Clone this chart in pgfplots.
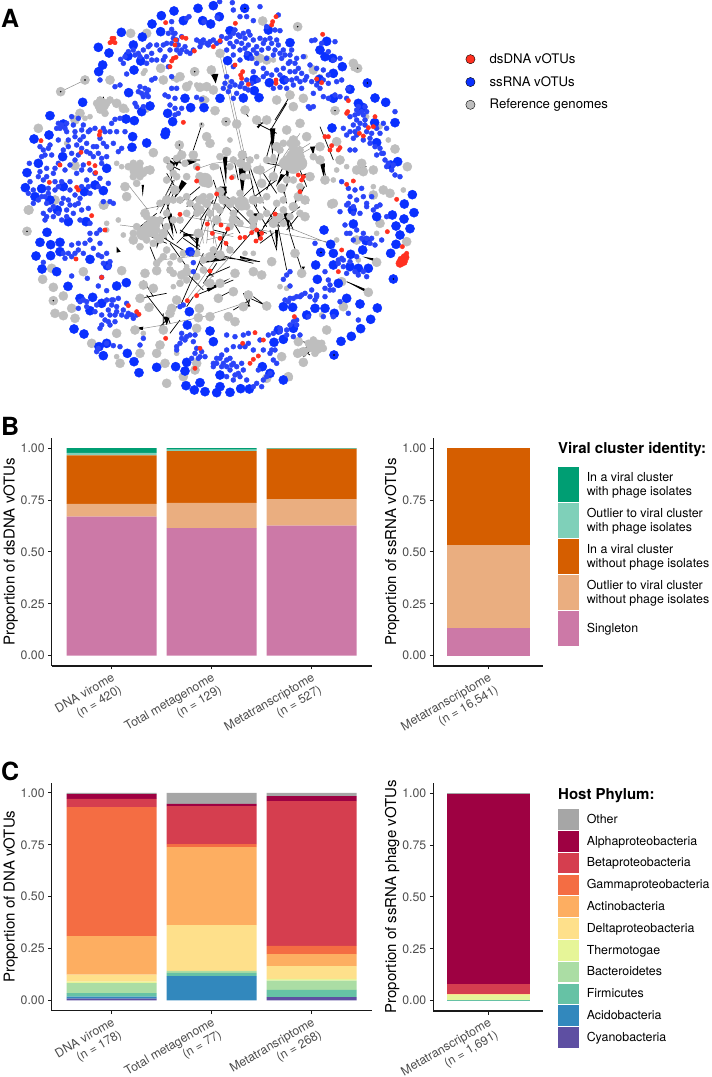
\documentclass[border=0pt]{standalone}
\usepackage{fontspec}
\setmainfont{TeX Gyre Heros}
\usepackage{pgfplots}
\usepackage{pgfplotstable}
\pgfplotsset{compat=1.18}

\definecolor{cRed}{HTML}{FF3020}
\definecolor{cBlue}{HTML}{0A30FF}
\definecolor{cBlueS}{HTML}{2A44F8}
\definecolor{cGray}{HTML}{BEBEBE}
\definecolor{vInPh}{HTML}{009E73}
\definecolor{vOutPh}{HTML}{7FD0B9}
\definecolor{vIn}{HTML}{D55E00}
\definecolor{vOut}{HTML}{EAAE80}
\definecolor{vSing}{HTML}{CC79A7}
\definecolor{hOther}{HTML}{A6A6A6}
\definecolor{hAlpha}{HTML}{9E0142}
\definecolor{hBeta}{HTML}{D53E4F}
\definecolor{hGamma}{HTML}{F46D43}
\definecolor{hActino}{HTML}{FDAE61}
\definecolor{hDelta}{HTML}{FEE08B}
\definecolor{hThermo}{HTML}{E6F598}
\definecolor{hBact}{HTML}{ABDDA4}
\definecolor{hFirm}{HTML}{66C2A5}
\definecolor{hAcido}{HTML}{3288BD}
\definecolor{hCyano}{HTML}{5E4FA2}
\definecolor{tickgray}{HTML}{4D4D4D}

\newcommand{\fs}[1]{\fontsize{#1}{14}\selectfont}

\pgfplotsset{
  barpanel/.style={
    scale only axis, height=228.2pt,
    ybar stacked, bar shift=0pt, bar width=0.9,
    ymin=-0.05, ymax=1.05, ytick={0,0.25,0.5,0.75,1},
    axis lines*=left,
    axis line style={-, line width=1.1pt, black!90},
    tick style={black!90, line width=0.9pt},
    tick align=outside, major tick length=3.5pt,
    xtick pos=bottom, ytick pos=left,
    tick label style={font=\fs{12.3}, text=tickgray},
    yticklabel style={/pgf/number format/assume math mode=true,
      /pgf/number format/fixed, /pgf/number format/fixed zerofill, /pgf/number format/precision=2},
    xticklabel style={rotate=30, anchor=north east, align=right, inner sep=2pt, font=\fs{12.3}},
    ylabel style={font=\fs{15}},
    ylabel shift=-4pt,
    legend style={draw=none, fill=none, anchor=north west, inner sep=0pt, outer sep=0pt,
      font=\fs{12.4}, row sep=1pt, column sep=8pt,
      cells={anchor=west}, nodes={inner sep=0pt, align=left}},
  },
  swatchB/.style={legend image code/.code={\fill[##1] (0pt,-17.5pt) rectangle (20.5pt,17.5pt);}},
  swatchC/.style={legend image code/.code={\fill[##1] (0pt,-10.3pt) rectangle (20.5pt,10.3pt);}},
  net/.style={only marks, mark=*, forget plot},
}

% proportions, bottom of the stack first
\pgfplotstableread{
x sing outno inno outph inph
1 0.670 0.0615 0.2335 0.0125 0.0225
2 0.614 0.122 0.2495 0.00725 0.00725
3 0.627 0.127 0.2428 0.001 0.0022
}\dsdna
\pgfplotstableread{
x sing outno inno outph inph
1 0.135 0.3995 0.4655 0 0
}\ssrna
\pgfplotstableread{
x cyano acido firm bact thermo delta actino gamma beta alpha other
1 0.008 0.010 0.017 0.0485 0.0065 0.034 0.186 0.621 0.040 0.023 0.006
2 0 0.117 0.015 0.0095 0 0.2215 0.375 0.015 0.183 0.011 0.053
3 0.016 0 0.034 0.045 0.008 0.062 0.058 0.039 0.698 0.024 0.016
}\dnahost
\pgfplotstableread{
x cyano acido firm bact thermo delta actino gamma beta alpha other
1 0 0 0.002 0 0.024 0.006 0 0 0.050 0.916 0.002
}\rnahost

\begin{document}
\begin{tikzpicture}[x=1pt,y=1pt]
\path[use as bounding box] (0,0) rectangle (712,1077);

% ---------- panel A: network, coordinates are 3 x pixel position
\begin{axis}[
  at={(0pt,667pt)}, anchor=south west, scale only axis, width=712pt, height=410pt,
  xmin=0, xmax=2136, ymin=0, ymax=1230, y dir=reverse, hide axis, clip=false,
  unbounded coords=jump,
  legend image code/.code={\fill[#1] (4.6pt,0pt) circle (4.6pt);},
  legend style={at={(axis description cs:0.6537,0.870)}, anchor=north west, draw=none, fill=none,
    inner sep=0pt, font=\fs{13.2}, row sep=11.5pt, column sep=14.4pt, cells={anchor=west}, nodes={inner sep=0pt}},
]
\addlegendimage{fill=cRed}\addlegendentry{dsDNA vOTUs}
\addlegendimage{fill=cBlue}\addlegendentry{ssRNA vOTUs}
\addlegendimage{fill=cGray}\addlegendentry{Reference genomes}

% reference genomes, hubs
\addplot[net, color=cGray, mark size=7pt] coordinates {
(455,690)(880,470)(410,510)(305,315)(950,1040)(725,610)(615,540)(460,670)(430,700)(880,500)(860,490)(900,490)
};
% reference genomes, large
\addplot[net, color=cGray, mark size=4.6pt] coordinates {
(788,63)(893,80)(660,160)(634,210)(584,215)(482,205)(392,100)(255,240)(182,275)(1073,205)(1005,332)(678,365)
(115,385)(225,497)(1010,425)(1185,447)(1222,500)(1085,490)(1120,510)(1070,510)(1090,515)(1150,570)(1170,580)(1120,585)
(620,410)(630,430)(538,435)(460,458)(450,510)(375,560)(380,590)(330,240)(350,310)(370,325)(440,100)(240,340)(225,360)
(165,600)(310,615)(85,630)(1000,610)(490,240)(540,230)(560,260)(600,262)(620,260)(640,270)(610,300)(645,332)(710,372)
(735,330)(770,360)(800,360)(880,320)(830,300)(910,295)(940,210)(1060,190)(800,180)(780,175)(870,285)
(727,465)(680,455)(722,490)(860,480)(900,470)(850,490)(820,530)(785,550)(600,530)(625,550)(580,465)(545,465)
(525,570)(500,600)(600,600)(660,575)(670,600)(760,600)(845,565)(895,590)(915,600)(880,620)(930,530)(975,540)(1020,480)
(960,480)(960,440)(780,510)(740,500)(900,370)(860,390)(880,420)(830,440)(920,410)(880,445)
(87,630)(81,694)(312,615)(440,680)(400,720)(435,640)(490,700)(595,700)(600,630)(620,610)(690,610)(730,615)(760,660)
(820,670)(830,655)(700,660)(650,660)(915,650)(885,760)(905,820)(815,785)(760,815)(705,820)(785,825)(630,850)(660,850)
(700,875)(655,895)(745,885)(800,918)(730,920)(598,925)(595,953)(630,950)(685,950)(705,965)(480,1035)(490,990)(405,990)
(350,1000)(420,1060)(360,1090)(500,1150)(590,985)(275,1030)(190,947)(225,955)(215,925)(165,940)(160,902)(190,888)
(160,862)(128,838)(155,805)(250,815)(365,812)(435,820)(470,812)(545,825)(560,815)(630,770)(660,765)(530,900)(515,925)
(510,940)(460,865)(430,855)(420,895)(447,922)(980,990)(1030,920)(895,1025)(950,1040)(910,1055)(893,1060)(910,1087)
(845,1070)(865,1130)(800,1135)(1130,787)(1105,877)(1025,845)(1070,720)(1140,670)(1220,725)(995,612)(590,1090)(585,1110)
(495,1090)(470,1060)(550,1130)
};
% reference genomes, middle size, mostly the central web
\addplot[net, color=cGray, mark size=3.6pt] coordinates {
(500,480)(510,500)(530,475)(555,490)(520,520)(500,540)(530,530)(560,530)(590,500)(640,500)(660,470)(700,480)(690,500)(730,530)
(750,480)(770,510)(800,480)(820,480)(840,450)(850,430)(870,430)(890,430)(900,450)(910,490)(940,470)(860,540)(880,540)(900,560)
(850,600)(830,610)(800,590)(780,600)(700,600)(720,580)(740,620)(650,620)(630,590)(610,590)(560,590)(540,600)(520,600)(480,610)
(590,620)(570,610)(500,640)(520,660)(500,680)(540,660)(560,640)(590,640)(630,640)(660,630)(700,640)(750,640)(780,650)(800,640)
(850,630)(880,620)(900,640)(870,650)(850,670)(840,650)(760,680)(720,670)(690,680)(480,720)(470,690)(500,750)(490,770)(520,770)
(550,760)(590,760)(610,780)(640,750)(690,750)(540,850)(560,840)(520,820)(510,810)(590,830)(610,810)(470,790)(400,700)(410,680)
(440,720)(460,730)(420,740)(470,710)(440,650)(480,660)(300,300)(290,310)(320,310)(300,330)(315,340)(330,300)(385,500)(400,490)
(420,490)(440,510)(420,530)(400,530)(410,550)(430,520)(940,1020)(965,1030)(970,1045)(945,1060)(930,1045)(925,1030)
};
% reference genomes, small
\addplot[net, color=cGray, mark size=2.6pt] coordinates {
(605,375)(430,220)(435,212)(520,235)(530,240)(570,250)(590,255)(620,300)(440,330)(380,330)(270,350)(255,355)(200,430)
(350,490)(365,500)(760,175)(820,180)(915,170)(960,230)(1060,205)(690,420)(650,500)(700,530)(745,530)(770,470)(820,470)
(1010,510)(1000,540)(1040,500)(1120,560)(1210,570)(1140,380)(1100,350)(1165,420)(320,670)(320,690)(355,660)(370,705)
(840,860)(860,865)(760,760)(735,760)(685,950)(435,815)(430,1000)(350,1070)(530,1060)(870,1135)(1130,700)(1000,950)
(965,945)(1010,720)(1075,780)(620,850)(560,800)(540,780)(580,760)(520,860)(480,780)(510,790)
};
% edges, black
\addplot[forget plot, black, line width=0.7pt] coordinates {
(605,375)(580,450)(nan,nan)(875,280)(825,360)(nan,nan)(860,310)(812,390)(nan,nan)(540,440)(540,490)(nan,nan)
(600,560)(540,610)(nan,nan)(830,540)(750,600)(nan,nan)(965,480)(980,540)(nan,nan)(960,380)(1000,480)(nan,nan)
(820,400)(800,470)(nan,nan)(770,370)(830,400)(nan,nan)(730,330)(745,350)(nan,nan)(745,500)(770,620)(nan,nan)
(500,610)(520,670)(nan,nan)(520,670)(530,700)(nan,nan)(550,715)(600,750)(nan,nan)(610,760)(540,920)(nan,nan)
(590,885)(700,840)(nan,nan)(780,785)(640,770)(nan,nan)(830,660)(860,810)(nan,nan)(810,690)(830,750)(nan,nan)
(870,700)(905,810)(nan,nan)(440,885)(490,950)(nan,nan)(430,840)(460,890)(nan,nan)(740,890)(800,918)(nan,nan)
(730,880)(750,920)(nan,nan)(420,895)(500,880)(nan,nan)(1040,845)(1100,870)(nan,nan)(910,1025)(950,1040)(nan,nan)
(910,1070)(940,1045)(nan,nan)(500,940)(510,970)(nan,nan)(490,940)(490,990)(nan,nan)(520,540)(480,620)(nan,nan)
(620,640)(600,700)(nan,nan)(540,690)(590,720)(nan,nan)(700,620)(780,700)(nan,nan)(770,680)(700,760)(nan,nan)
(720,620)(640,770)(nan,nan)(670,700)(660,770)(nan,nan)(500,490)(540,510)(nan,nan)(510,480)(530,540)(nan,nan)
(560,480)(600,480)(nan,nan)(520,560)(480,640)(nan,nan)(520,580)(500,630)(nan,nan)(560,590)(590,640)(nan,nan)
(600,620)(540,700)(nan,nan)(640,600)(600,660)(nan,nan)(660,600)(720,660)(nan,nan)(680,610)(640,680)(nan,nan)
(760,610)(800,680)(nan,nan)(790,620)(840,680)(nan,nan)(830,620)(780,700)(nan,nan)(850,620)(880,690)(nan,nan)
(900,620)(820,680)(nan,nan)(860,500)(900,440)(nan,nan)(880,440)(840,520)(nan,nan)(910,470)(850,530)(nan,nan)
(840,450)(815,540)(nan,nan)(790,520)(830,580)(nan,nan)(760,560)(720,600)(nan,nan)(660,500)(680,580)(nan,nan)
(640,540)(660,600)(nan,nan)(470,640)(420,680)(nan,nan)(480,650)(500,720)(nan,nan)(430,700)(500,730)(nan,nan)
(450,740)(470,790)(nan,nan)(470,700)(580,770)(nan,nan)(510,730)(560,800)(nan,nan)(560,820)(610,870)(nan,nan)
(640,760)(720,780)(nan,nan)(600,790)(640,830)(nan,nan)(700,930)(750,900)(nan,nan)(760,890)(800,920)(nan,nan)
(540,960)(510,1000)(nan,nan)(515,475)(545,490)(nan,nan)(500,520)(525,560)(nan,nan)(590,590)(560,620)(nan,nan)
(700,470)(715,540)(nan,nan)(740,470)(760,530)(nan,nan)(760,530)(790,610)(nan,nan)(800,490)(860,500)(nan,nan)
(840,500)(880,490)(nan,nan)(820,520)(800,570)(nan,nan)(870,530)(850,580)(nan,nan)(900,510)(920,560)(nan,nan)
(900,590)(925,610)(nan,nan)(850,560)(860,610)(nan,nan)(660,560)(640,620)(nan,nan)(680,590)(720,620)(nan,nan)
(600,600)(640,610)(nan,nan)(470,620)(520,600)(nan,nan)(450,680)(500,650)(nan,nan)(500,690)(520,720)(nan,nan)
(530,730)(560,700)(nan,nan)(560,700)(600,740)(nan,nan)(640,690)(680,700)(nan,nan)(690,650)(720,700)(nan,nan)
(750,680)(800,700)(nan,nan)(790,680)(830,640)(nan,nan)(820,700)(780,730)(nan,nan)(900,640)(860,690)(nan,nan)
(680,770)(760,790)(nan,nan)(620,830)(690,800)(nan,nan)(650,790)(610,850)(nan,nan)(700,870)(660,890)(nan,nan)
(560,920)(580,890)(nan,nan)(500,950)(530,920)(nan,nan)(480,980)(500,960)(nan,nan)(750,890)(745,920)(nan,nan)
(1070,505)(1100,500)(nan,nan)(1095,510)(1075,520)(nan,nan)(900,1045)(930,1065)(nan,nan)(920,1040)(900,1070)(nan,nan)
(300,300)(320,320)(nan,nan)(310,290)(315,330)(nan,nan)(765,365)(790,370)(nan,nan)(405,500)(415,530)
};
% edges, gray
\addplot[forget plot, black!45, line width=0.5pt] coordinates {
(255,240)(182,275)(nan,nan)(660,165)(728,470)(nan,nan)(668,165)(735,470)(nan,nan)(430,628)(470,620)(nan,nan)
(385,555)(440,625)(nan,nan)(595,505)(640,490)(720,480)(nan,nan)(470,630)(525,540)(nan,nan)
(900,400)(850,470)(nan,nan)(930,430)(850,480)(nan,nan)(960,430)(850,490)(nan,nan)(870,470)(790,520)(nan,nan)
(780,490)(780,550)(nan,nan)(360,675)(440,685)(nan,nan)(600,620)(610,730)(nan,nan)(630,620)(620,730)(nan,nan)
(640,620)(640,730)(nan,nan)(660,760)(560,900)(nan,nan)(700,760)(580,890)(nan,nan)(480,780)(660,760)(nan,nan)
(430,985)(490,975)(nan,nan)(490,975)(610,950)(730,910)(nan,nan)(560,650)(980,725)(nan,nan)(860,680)(985,730)(nan,nan)
(620,600)(650,740)(nan,nan)(640,620)(590,760)(nan,nan)(610,690)(700,710)(nan,nan)(620,720)(700,700)
};
% wedges
\addplot[forget plot, fill=black, draw=none] coordinates {
(632,222)(655,222)(647,250)(nan,nan)(718,455)(738,455)(727,510)(nan,nan)(716,505)(738,505)(727,590)(nan,nan)
(668,470)(682,470)(678,550)(nan,nan)(810,385)(826,385)(817,470)(nan,nan)(828,560)(855,525)(842,522)(nan,nan)
(770,380)(790,365)(775,385)(nan,nan)(905,525)(920,520)(900,545)(nan,nan)(930,440)(945,440)(940,465)(nan,nan)
(960,490)(975,490)(972,535)(nan,nan)(520,480)(540,480)(530,500)(nan,nan)(510,480)(525,490)(520,510)(nan,nan)
(560,480)(590,485)(565,495)(nan,nan)(425,555)(432,555)(428,590)(nan,nan)(855,480)(870,480)(862,560)(nan,nan)
(470,720)(480,720)(470,745)(nan,nan)(350,740)(362,755)(350,758)(nan,nan)(825,690)(835,690)(830,755)(nan,nan)
(1088,770)(1125,785)(1120,775)(nan,nan)(1040,845)(1095,875)(1095,868)(nan,nan)(720,775)(780,785)(720,768)(nan,nan)
(690,835)(625,875)(620,865)(nan,nan)(430,980)(400,985)(428,990)(nan,nan)(490,950)(510,950)(500,975)(nan,nan)
(915,1070)(925,1050)(905,1060)(nan,nan)(550,700)(590,705)(550,710)(nan,nan)(670,720)(690,750)(680,730)(nan,nan)
(905,800)(915,800)(910,810)(nan,nan)(735,910)(745,915)(738,930)(nan,nan)(790,910)(805,920)(795,925)(nan,nan)
(770,690)(785,700)(775,720)(nan,nan)(820,640)(835,640)(828,665)(nan,nan)(505,490)(520,490)(515,540)(nan,nan)
(545,540)(560,550)(520,600)(nan,nan)(660,560)(680,560)(672,620)(nan,nan)(900,560)(915,560)(880,620)(nan,nan)
(850,640)(865,640)(870,700)(nan,nan)(500,640)(515,640)(520,710)(nan,nan)(585,690)(600,690)(590,760)(nan,nan)
(760,640)(775,640)(765,700)(nan,nan)(660,770)(680,780)(600,790)
};
% ssRNA, large
\addplot[net, color=cBlue, mark size=4.6pt] coordinates {
(594,25)(640,17)(522,33)(484,47)(456,72)(482,95)(550,62)(608,62)(632,72)(658,50)(690,92)(734,25)(805,90)(870,128)(852,240)
(763,238)(808,248)(730,294)(777,293)(660,295)(683,182)(745,168)(980,124)(960,150)(1000,220)(1027,200)(1102,249)(1125,294)
(1157,307)(1185,368)(996,384)(1088,322)(1124,368)(1130,428)(1193,485)(1172,495)(1237,584)(1213,612)(295,142)(327,159)
(400,135)(364,97)(427,111)(422,183)(384,168)(402,210)(308,195)(296,215)(386,278)(248,307)(150,347)(102,417)(147,405)(190,372)
(396,442)(440,429)(398,410)(403,362)(378,357)(450,318)(425,335)(612,323)(572,323)(555,295)(518,365)(503,340)(188,470)(320,505)
(81,518)(115,490)(76,563)(125,566)(105,590)(190,560)(253,575)(310,572)(285,555)(150,600)(495,404)(497,396)(763,272)(958,238)
(1000,295)(1075,310)(1050,268)(975,170)(998,175)
(120,727)(152,734)(180,727)(180,755)(152,767)(141,697)(172,630)(205,665)(258,665)(270,778)(322,797)(108,768)(126,807)(170,815)
(204,859)(379,848)(350,858)(240,895)(278,892)(305,910)(270,932)(222,987)(252,1002)(310,1067)(297,1040)(320,1030)(382,1060)
(402,1085)(417,1118)(470,1102)(527,1100)(555,1113)(560,1087)(558,1157)(583,1170)(615,1175)(650,1178)(690,1177)(722,1166)
(748,1167)(850,1140)(787,1100)(810,1120)(660,1125)(660,1160)(600,1148)(568,935)(562,975)(630,993)(640,1025)(822,1027)
(850,1018)(835,990)(880,985)(878,922)(972,690)(992,733)(1000,760)(1052,763)(1088,750)(962,757)(947,795)(1000,795)(952,838)
(1050,800)(1075,805)(1105,805)(1015,850)(1040,895)(1080,912)(1132,924)(1112,958)(1082,986)(1054,1009)(1023,1024)(1002,1065)
(1180,837)(1242,638)(1212,657)(1177,645)(1230,686)(1200,705)(1188,678)(1188,733)(1172,760)(1098,722)(1060,672)(1057,630)
(1130,650)(975,925)(1003,940)(945,925)(920,945)(570,755)(850,920)
};
% ssRNA, small
\addplot[net, color=cBlueS, mark size=2.5pt] coordinates {
(659,5)(697,8)(780,20)(700,30)(740,50)(652,53)(560,55)(567,50)(612,65)(515,65)(720,50)(760,62)(835,45)(825,90)(800,80)(840,92)
(515,88)(525,100)(545,110)(530,120)(520,100)(500,130)(495,170)(470,135)(445,140)(430,150)(415,160)(405,165)(375,170)(362,178)
(370,190)(490,135)(490,180)(470,180)(455,180)(440,190)(510,150)(530,150)(540,160)(560,155)(580,150)(600,125)(620,130)(640,120)
(660,125)(680,115)(700,100)(715,105)(730,100)(745,95)(710,125)(725,130)(745,135)(770,140)(790,130)(810,115)(830,120)(850,150)
(870,165)(890,175)(910,170)(840,160)(820,165)(800,175)(770,190)(760,150)(740,160)(700,165)(680,150)(720,180)(700,200)(680,230)
(690,260)(670,265)(710,280)(700,295)(720,260)(745,270)(740,240)(760,215)(790,205)(800,220)(830,210)(850,205)(870,215)(890,235)
(915,240)(935,245)(985,250)(960,265)(940,280)(905,265)(880,255)(860,265)(840,262)(820,265)(945,120)(935,122)(965,130)(1005,125)
(985,155)(950,205)(970,210)(930,195)(1000,180)(1020,175)(1045,265)(1040,295)(1020,290)(1005,285)(985,295)(970,290)(940,320)
(930,325)(1075,320)(1095,320)(1075,340)(1090,345)(1070,360)(1050,350)(1060,375)(1095,375)(1050,395)(1070,405)(1090,420)(1110,430)
(1160,385)(1140,400)(1185,335)(1060,415)(1030,385)(1050,450)(1065,450)(1130,465)(1150,460)(1155,480)(1175,510)(1185,525)(1140,445)
(1025,545)(1045,565)(1065,570)(1085,565)(1050,590)(1070,600)(1090,590)(1115,590)(1045,610)(1060,620)(925,320)
(515,230)(465,235)(445,270)(425,280)(405,310)(360,255)(345,260)(420,260)(440,280)(415,275)(455,240)(300,240)(380,222)(360,355)
(345,358)(335,370)(350,395)(330,395)(375,395)(355,455)(365,445)(310,430)(320,440)(300,415)(315,395)(340,430)
(515,265)(530,265)(505,290)(495,285)(525,295)(510,315)(525,325)(535,340)(590,292)(605,298)(545,325)(525,345)
(175,370)(200,370)(215,350)(235,355)(245,390)(225,395)(265,395)(285,385)(310,385)(280,440)(260,430)(240,420)(230,435)(205,420)
(125,470)(130,450)(145,445)(175,420)(215,460)(235,465)(260,455)(290,440)(305,475)(320,470)(280,470)(270,510)(250,495)(120,515)
(140,530)(160,520)(175,490)(195,510)(165,505)(88,490)(90,545)(100,570)(145,565)(165,570)(185,545)(210,545)(230,520)(260,540)
(285,520)(300,535)(325,550)(135,590)(205,600)(240,595)(270,580)(310,605)(330,605)(340,610)(185,610)(160,620)(115,600)(85,580)
(140,650)(200,630)(225,615)(245,630)(265,625)(290,700)(270,700)(255,730)(235,750)(215,770)(195,775)(130,787)(225,760)(300,730)
(320,760)(330,785)(295,765)(215,828)(262,835)(305,832)(295,858)(320,872)(355,895)(335,900)(350,920)(325,930)(345,945)(325,965)
(305,945)(235,925)(250,900)(380,910)(385,940)(400,955)(430,1015)(420,1035)(385,945)(340,900)(295,1045)(320,1030)(340,1037)
(360,1040)(290,1055)(530,1040)(545,1000)(555,1020)(570,1005)(585,1005)(580,1025)(600,1070)(615,1070)(585,1060)(530,1050)(575,760)
(580,788)(580,815)(540,920)(550,915)(680,1005)(705,1010)(730,1005)(745,1000)(745,1030)(760,1050)(720,1040)(700,1040)(680,1050)
(665,1065)(650,1075)(640,1090)(680,1080)(700,1090)(690,1110)(715,1120)(730,1110)(640,1100)(680,1130)(700,1140)(770,1150)(790,1140)
(810,1120)(830,1090)(820,1080)(780,1020)(815,1050)(840,995)(860,990)(880,965)(890,975)(855,900)(870,895)(890,890)(905,885)(935,870)
(950,885)(975,865)(990,855)(975,815)(985,840)(870,858)(850,838)(870,815)(860,825)(945,730)(1015,780)(1030,780)(1070,770)(1050,785)
(1100,715)(1085,715)(1110,730)(1145,720)(1040,700)(1035,675)(1060,640)(1080,640)(1100,610)(1120,630)(1040,615)(1020,635)(950,890)
(925,950)(970,950)(1000,950)(1045,940)(1075,960)(1020,905)(1140,615)
(590,120)(605,130)(625,135)(650,130)(665,110)(690,110)(705,90)(720,110)(735,115)(750,105)(760,120)(780,115)(795,120)(815,130)
(835,135)(855,165)(875,150)(885,190)(870,185)(845,175)(825,150)(805,145)(785,150)(770,160)(755,175)(735,145)(720,150)(700,140)(690,130)
(675,250)(685,275)(695,245)(705,255)(725,250)(735,265)(755,250)(775,240)(790,230)(815,225)(840,225)(860,240)(875,240)(900,245)
(920,230)(905,220)(885,215)(865,190)(895,205)(950,255)(970,240)(985,225)(1010,245)(1025,240)
(1070,330)(1085,335)(1100,335)(1065,345)(1095,360)(1080,370)(1075,385)(1100,395)(1115,400)(1130,385)(1150,370)(1065,395)(1040,405)
(1125,440)(1110,415)(1145,460)(1165,490)(1180,495)(1160,500)(1200,530)
(185,375)(195,385)(180,385)(170,385)(220,375)(250,375)(270,390)(200,395)(225,410)(250,410)(150,435)(120,440)(135,465)(155,465)
(205,440)(190,450)(245,445)(270,460)(295,460)(305,490)(245,510)(225,480)(210,495)(140,505)(115,530)(130,540)(165,545)(145,580)
(125,590)(175,560)(210,570)(225,585)(245,560)(265,560)(295,560)(210,615)(190,595)(140,610)(100,610)(235,610)
(150,630)(160,650)(175,640)(135,660)(185,660)(220,640)(200,650)(240,660)(270,670)(130,640)(300,690)(270,720)(215,735)(235,730)
(205,760)(190,760)(250,760)(280,745)(305,770)(310,790)(325,800)
(240,905)(260,905)(290,915)(320,900)(335,915)(350,935)(365,945)(330,945)(315,960)(305,975)(330,975)(345,965)(300,985)(380,950)
(370,930)(395,945)(410,945)(260,920)(285,935)
(545,1015)(560,1010)(540,1030)(590,1045)(605,1055)(595,1075)(575,1075)(650,1090)(660,1075)(670,1090)(690,1075)(695,1095)(710,1100)
(725,1090)(665,1100)(680,1100)(705,1125)(720,1130)(740,1140)(760,1160)(735,1040)(775,1110)(810,1060)(825,1050)(790,1050)(805,1005)
(820,1000)(785,1160)(800,1130)
(1050,700)(1070,690)(1090,700)(1060,720)(1115,715)(1125,735)(1015,790)(1030,800)(1065,815)(1090,815)(1100,830)(1075,825)(1040,820)
(1025,775)(1100,620)(1130,620)(1160,650)
(865,905)(880,895)(900,890)(915,880)(930,890)(945,900)(975,890)(890,960)(900,1005)(870,975)(860,1005)(880,1010)(840,985)(1000,870)(990,870)
(505,100)(520,115)(535,135)(515,130)(555,140)(570,160)(545,150)(600,140)(610,120)(630,125)
(385,155)(400,150)(420,170)(440,170)(455,160)(480,150)(505,200)(450,135)
(430,290)(445,290)(435,265)(410,320)(430,320)
};
% dsDNA, small
\addplot[net, color=cRed, mark size=2.2pt] coordinates {
(336,115)(336,125)(345,128)(330,128)(342,115)(497,68)(706,70)(828,50)(818,65)(815,75)(527,120)(525,135)(558,115)(547,112)(583,153)
(520,175)(528,172)(515,183)(510,200)(640,140)(660,122)(705,195)(728,215)(722,225)(725,235)(745,253)(828,240)(828,250)(950,237)
(965,248)(968,103)(1045,302)(1043,335)(1040,340)(1125,350)(1105,383)(1090,408)(1078,400)(1120,380)(975,410)(985,410)(990,450)
(995,437)(1015,450)(1020,443)(1040,553)(1060,543)(1190,598)(123,422)(300,395)(298,405)(243,457)(267,490)(285,497)(287,518)(148,547)
(230,562)(235,570)(180,495)(550,367)(593,505)(590,543)(695,533)(650,582)(910,530)(905,540)(895,525)(900,575)
(540,643)(622,672)(663,675)(683,687)(637,700)(660,715)(678,730)(720,713)(735,712)(755,698)(770,690)(785,700)(768,723)(782,715)
(825,642)(275,647)(315,690)(228,777)(305,832)(410,935)(417,943)(385,917)(497,1015)(562,902)(590,887)(630,813)(600,1045)(585,1105)
(765,998)(790,1020)(728,1030)(775,1068)(760,1078)(750,1090)(883,950)(1162,695)(1025,750)(1015,815)(1207,740)(1220,760)(1215,770)
};
% dsDNA, large
\addplot[net, color=cRed, mark size=4.2pt] coordinates {
(1205,780)(1215,772)(1200,790)(1210,785)
};
% small dark centres of single nodes
\addplot[net, color=black, mark size=0.5pt] coordinates {
(893,80)(735,25)(1102,249)(963,757)(1002,1065)(1180,837)(81,694)(255,240)(182,275)(538,435)(604,372)(1005,332)(678,365)(160,902)(584,215)(1073,205)
};
\end{axis}

% ---------- panel B, dsDNA
\begin{axis}[
  barpanel, at={(51.7pt,411pt)}, anchor=south west, width=320pt,
  xmin=0.4, xmax=3.6, xtick={1,2,3},
  xticklabels={{DNA virome\\(n = 420)},{Total metagenome\\(n = 129)},{Metatranscriptome\\(n = 527)}},
  ylabel={Proportion of dsDNA vOTUs},
]
\addplot[fill=vSing, draw=none] table[x=x,y=sing] {\dsdna};
\addplot[fill=vOut, draw=none] table[x=x,y=outno] {\dsdna};
\addplot[fill=vIn, draw=none] table[x=x,y=inno] {\dsdna};
\addplot[fill=vOutPh, draw=none] table[x=x,y=outph] {\dsdna};
\addplot[fill=vInPh, draw=none] table[x=x,y=inph] {\dsdna};
\end{axis}

% ---------- panel B, ssRNA, with the legend
\begin{axis}[
  barpanel, at={(433.3pt,411pt)}, anchor=south west, width=110pt,
  xmin=0.4, xmax=1.6, xtick={1},
  xticklabels={{Metatranscriptome\\(n = 16{,}541)}},
  ylabel={Proportion of ssRNA vOTUs},
  legend style={at={(axis description cs:1.136,0.873)}}, reverse legend,
]
\addplot[fill=vSing, draw=none, swatchB] table[x=x,y=sing] {\ssrna};
\addplot[fill=vOut, draw=none, swatchB] table[x=x,y=outno] {\ssrna};
\addplot[fill=vIn, draw=none, swatchB] table[x=x,y=inno] {\ssrna};
\addplot[fill=vOutPh, draw=none, swatchB] table[x=x,y=outph] {\ssrna};
\addplot[fill=vInPh, draw=none, swatchB] table[x=x,y=inph] {\ssrna};
\addlegendentry{Singleton}
\addlegendentry{Outlier to viral cluster\\without phage isolates}
\addlegendentry{In a viral cluster\\without phage isolates}
\addlegendentry{Outlier to viral cluster\\with phage isolates}
\addlegendentry{In a viral cluster\\with phage isolates}
\end{axis}

% ---------- panel C, DNA
\begin{axis}[
  barpanel, at={(51.7pt,66.3pt)}, anchor=south west, width=320pt,
  xmin=0.4, xmax=3.6, xtick={1,2,3},
  xticklabels={{DNA virome\\(n = 178)},{Total metagenome\\(n = 77)},{Metatransriptome\\(n = 268)}},
  ylabel={Proportion of DNA vOTUs},
]
\addplot[fill=hCyano, draw=none] table[x=x,y=cyano] {\dnahost};
\addplot[fill=hAcido, draw=none] table[x=x,y=acido] {\dnahost};
\addplot[fill=hFirm, draw=none] table[x=x,y=firm] {\dnahost};
\addplot[fill=hBact, draw=none] table[x=x,y=bact] {\dnahost};
\addplot[fill=hThermo, draw=none] table[x=x,y=thermo] {\dnahost};
\addplot[fill=hDelta, draw=none] table[x=x,y=delta] {\dnahost};
\addplot[fill=hActino, draw=none] table[x=x,y=actino] {\dnahost};
\addplot[fill=hGamma, draw=none] table[x=x,y=gamma] {\dnahost};
\addplot[fill=hBeta, draw=none] table[x=x,y=beta] {\dnahost};
\addplot[fill=hAlpha, draw=none] table[x=x,y=alpha] {\dnahost};
\addplot[fill=hOther, draw=none] table[x=x,y=other] {\dnahost};
\end{axis}

% ---------- panel C, ssRNA phages, with the legend
\begin{axis}[
  barpanel, at={(433.3pt,66pt)}, anchor=south west, width=110pt,
  xmin=0.4, xmax=1.6, xtick={1},
  xticklabels={{Metatranscriptome\\(n = 1{,}691)}},
  ylabel={Proportion of ssRNA phage vOTUs},
  legend style={at={(axis description cs:1.136,0.884)}, row sep=1.2pt}, reverse legend,
]
\addplot[fill=hCyano, draw=none, swatchC] table[x=x,y=cyano] {\rnahost};
\addplot[fill=hAcido, draw=none, swatchC] table[x=x,y=acido] {\rnahost};
\addplot[fill=hFirm, draw=none, swatchC] table[x=x,y=firm] {\rnahost};
\addplot[fill=hBact, draw=none, swatchC] table[x=x,y=bact] {\rnahost};
\addplot[fill=hThermo, draw=none, swatchC] table[x=x,y=thermo] {\rnahost};
\addplot[fill=hDelta, draw=none, swatchC] table[x=x,y=delta] {\rnahost};
\addplot[fill=hActino, draw=none, swatchC] table[x=x,y=actino] {\rnahost};
\addplot[fill=hGamma, draw=none, swatchC] table[x=x,y=gamma] {\rnahost};
\addplot[fill=hBeta, draw=none, swatchC] table[x=x,y=beta] {\rnahost};
\addplot[fill=hAlpha, draw=none, swatchC] table[x=x,y=alpha] {\rnahost};
\addplot[fill=hOther, draw=none, swatchC] table[x=x,y=other] {\rnahost};
\addlegendentry{Cyanobacteria}
\addlegendentry{Acidobacteria}
\addlegendentry{Firmicutes}
\addlegendentry{Bacteroidetes}
\addlegendentry{Thermotogae}
\addlegendentry{Deltaproteobacteria}
\addlegendentry{Actinobacteria}
\addlegendentry{Gammaproteobacteria}
\addlegendentry{Betaproteobacteria}
\addlegendentry{Alphaproteobacteria}
\addlegendentry{Other}
\end{axis}

% panel letters and legend titles
\node[anchor=base west, inner sep=0pt, font=\fs{25}\bfseries] at (1,1049) {A};
\node[anchor=base west, inner sep=0pt, font=\fs{25}\bfseries] at (1,641) {B};
\node[anchor=base west, inner sep=0pt, font=\fs{25}\bfseries] at (1,296) {C};
\node[anchor=base west, inner sep=0pt, font=\fs{15}\bfseries] at (558,623) {Viral cluster identity:};
\node[anchor=base west, inner sep=0pt, font=\fs{15}\bfseries] at (558,277) {Host Phylum:};
\end{tikzpicture}
\end{document}
